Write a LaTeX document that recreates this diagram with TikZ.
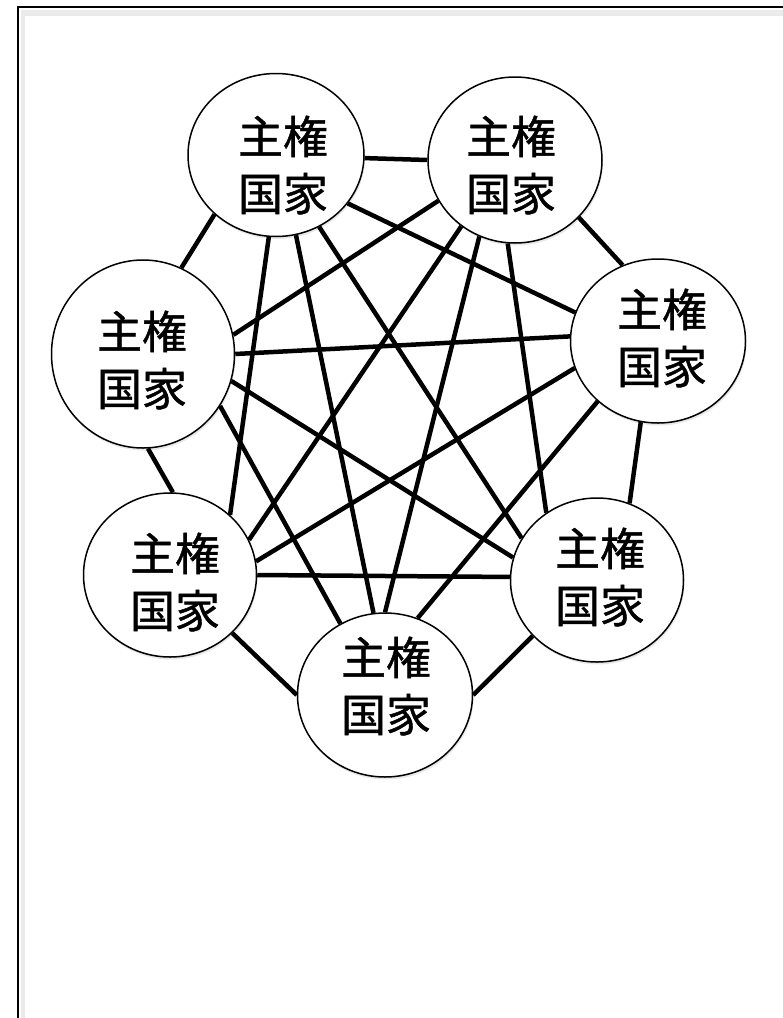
\documentclass[tikz,border=0pt]{standalone}
\usepackage{fontspec}
\newfontfamily\cjk[FakeBold=1]{Noto Sans CJK JP}
\usetikzlibrary{shapes.geometric,shadows}
\tikzset{
  state/.style={ellipse, draw=black, line width=1.5pt, fill=white, inner sep=0pt,
    drop shadow={opacity=0.18, shadow xshift=1pt, shadow yshift=-2.5pt}},
  label text/.style={inner sep=0pt, align=center,
    font=\cjk\fontsize{45}{57}\selectfont},
  link/.style={line width=4.5pt, black},
  frameline/.style={line width=2pt, black}
}
\begin{document}
\begin{tikzpicture}[x=1pt,y=-1pt]
\useasboundingbox (0,0) rectangle (783,1018);
\clip (0,0) rectangle (783,1018);
% frame with faint shadow
\fill[black!8] (21,10) rectangle (800,16);
\fill[black!8] (21,10) rectangle (25,1030);
\coordinate (fbl) at (18,1030);
\coordinate (ftl) at (18,7);
\coordinate (ftr) at (800,7);
\draw[frameline] (fbl) -- (ftl) -- (ftr);
% nodes
\node[state, minimum width=176pt, minimum height=163pt] (A) at (276,155) {};
\node[state, minimum width=174pt, minimum height=166pt] (B) at (515,160) {};
\node[state, minimum width=183pt, minimum height=188pt] (C) at (143,354) {};
\node[state, minimum width=175pt, minimum height=164pt] (D) at (658,341) {};
\node[state, minimum width=173pt, minimum height=164pt] (E) at (170,575) {};
\node[state, minimum width=173pt, minimum height=164pt] (F) at (597,580) {};
\node[state, minimum width=175pt, minimum height=164pt] (G) at (385,695) {};
% texts
\node[label text] (At) at (283,165) {主権\\国家};
\node[label text] (Bt) at (511,165) {主権\\国家};
\node[label text] (Ct) at (142,360) {主権\\国家};
\node[label text] (Dt) at (662,338) {主権\\国家};
\node[label text] (Et) at (175,582) {主権\\国家};
\node[label text] (Ft) at (600,577) {主権\\国家};
\node[label text] (Gt) at (386,686) {主権\\国家};
% connectors (outer ring)
\draw[link] (A.-2)    -- (B.180);
\draw[link] (B.-42.6) -- (D.115.6);
\draw[link] (D.-102)  -- (F.67);
\draw[link] (F.-139)  -- (G.0);
\draw[link] (G.180)   -- (E.-43);
\draw[link] (E.88.6)  -- (C.-87);
\draw[link] (C.66.3)  -- (A.-136.4);
% connectors (diagonals)
\draw[link] (A.-34.7)  -- (D.161.4);
\draw[link] (A.-59.6)  -- (F.151.6);
\draw[link] (A.-76)    -- (G.98.2);
\draw[link] (A.-95.3)  -- (E.45);
\draw[link] (B.-152.8) -- (C.12.6);
\draw[link] (B.-129.4) -- (E.24.4);
\draw[link] (B.-115.4) -- (G.90);
\draw[link] (B.-95.3)  -- (F.127.2);
\draw[link] (C.0)      -- (D.177.4);
\draw[link] (C.-17.8)  -- (F.165.8);
\draw[link] (C.-34.5)  -- (G.122);
\draw[link] (D.-162.4) -- (E.9.7);
\draw[link] (D.-135)   -- (G.67.7);
\draw[link] (E.0)      -- (F.178);
\end{tikzpicture}
\end{document}
